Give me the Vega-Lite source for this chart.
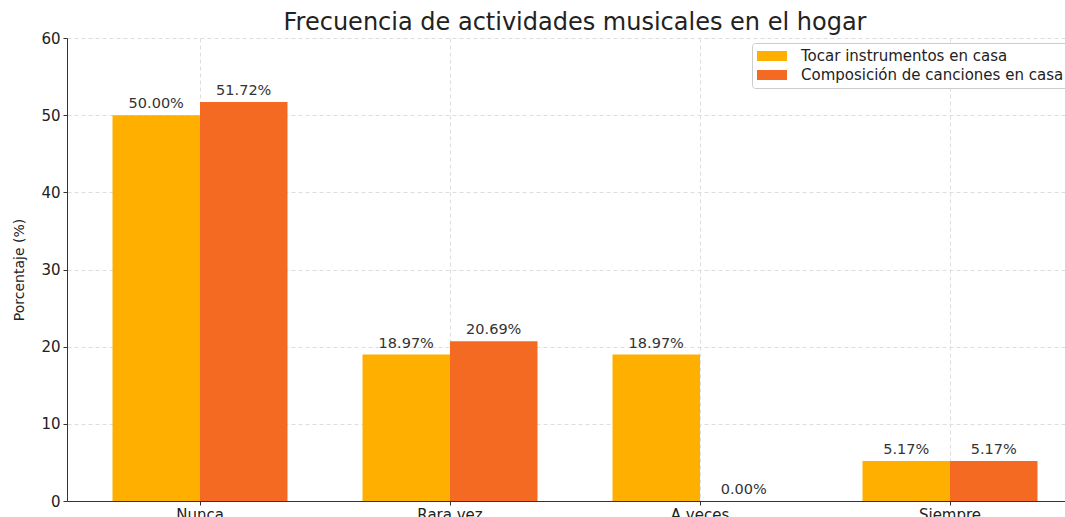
{
  "$schema": "https://vega.github.io/schema/vega-lite/v6.json",
  "width": 1016,
  "height": 463,
  "autosize": {"type": "none"},
  "padding": {"left": 67, "top": 38, "right": 0, "bottom": 16},
  "background": "white",
  "title": {"text": "Frecuencia de actividades musicales en el hogar", "font": "DejaVu Sans", "fontSize": 24, "fontWeight": "normal", "color": "#222222", "offset": -4},
  "config": {
    "view": {"stroke": null},
    "text": {"font": "DejaVu Sans"}
  },
  "data": {"values": [
    {"frecuencia": "Nunca", "actividad": "Tocar instrumentos en casa", "porcentaje": 50.00, "etiqueta": "50.00%"},
    {"frecuencia": "Nunca", "actividad": "Composición de canciones en casa", "porcentaje": 51.72, "etiqueta": "51.72%"},
    {"frecuencia": "Rara vez", "actividad": "Tocar instrumentos en casa", "porcentaje": 18.97, "etiqueta": "18.97%"},
    {"frecuencia": "Rara vez", "actividad": "Composición de canciones en casa", "porcentaje": 20.69, "etiqueta": "20.69%"},
    {"frecuencia": "A veces", "actividad": "Tocar instrumentos en casa", "porcentaje": 18.97, "etiqueta": "18.97%"},
    {"frecuencia": "A veces", "actividad": "Composición de canciones en casa", "porcentaje": 0.00, "etiqueta": "0.00%"},
    {"frecuencia": "Siempre", "actividad": "Tocar instrumentos en casa", "porcentaje": 5.17, "etiqueta": "5.17%"},
    {"frecuencia": "Siempre", "actividad": "Composición de canciones en casa", "porcentaje": 5.17, "etiqueta": "5.17%"}
  ]},
  "encoding": {
    "x": {
      "field": "frecuencia", "type": "nominal",
      "sort": ["Nunca", "Rara vez", "A veces", "Siempre"],
      "scale": {"paddingInner": 0.3, "paddingOuter": 0.182},
      "axis": {
        "title": null, "labelAngle": 0, "labelFont": "DejaVu Sans", "labelFontSize": 15, "labelColor": "#222222",
        "tickSize": 4, "tickColor": "#333333", "domainColor": "#333333", "labelPadding": 2,
        "grid": true, "gridDash": [4, 3], "gridColor": "#dddddd", "bandPosition": 0.5
      }
    },
    "xOffset": {"field": "actividad", "type": "nominal", "sort": ["Tocar instrumentos en casa", "Composición de canciones en casa"], "scale": {"paddingInner": 0, "paddingOuter": 0}},
    "y": {
      "field": "porcentaje", "type": "quantitative",
      "scale": {"domain": [0, 60], "nice": false},
      "axis": {
        "title": "Porcentaje (%)", "titleFont": "DejaVu Sans", "titleFontSize": 14, "titleFontWeight": "normal", "titleColor": "#222222", "titlePadding": 14,
        "values": [0, 10, 20, 30, 40, 50, 60], "labelFont": "DejaVu Sans", "labelFontSize": 15, "labelColor": "#222222",
        "tickSize": 4, "tickColor": "#333333", "domainColor": "#333333", "labelPadding": 3,
        "grid": true, "gridDash": [4, 3], "gridColor": "#dddddd"
      }
    }
  },
  "layer": [
    {
      "mark": {"type": "bar"},
      "encoding": {
        "color": {
          "field": "actividad", "type": "nominal",
          "scale": {"domain": ["Tocar instrumentos en casa", "Composición de canciones en casa"], "range": ["#FFAF00", "#F46A23"]},
          "legend": {
            "title": null, "orient": "none", "legendX": 685, "legendY": 5,
            "fillColor": "white", "strokeColor": "#cccccc", "padding": 5, "cornerRadius": 3,
            "labelFont": "DejaVu Sans", "labelFontSize": 15, "labelColor": "#222222", "labelOffset": 28, "labelLimit": 0,
            "symbolType": "M-1,-0.625H2.75V0.625H-1Z", "symbolSize": 256, "symbolStrokeWidth": 0, "symbolOpacity": 1,
            "rowPadding": 3
          }
        }
      }
    },
    {
      "mark": {"type": "text", "baseline": "bottom", "dy": -4, "fontSize": 14.5, "color": "#333333"},
      "encoding": {"text": {"field": "etiqueta"}}
    }
  ]
}
